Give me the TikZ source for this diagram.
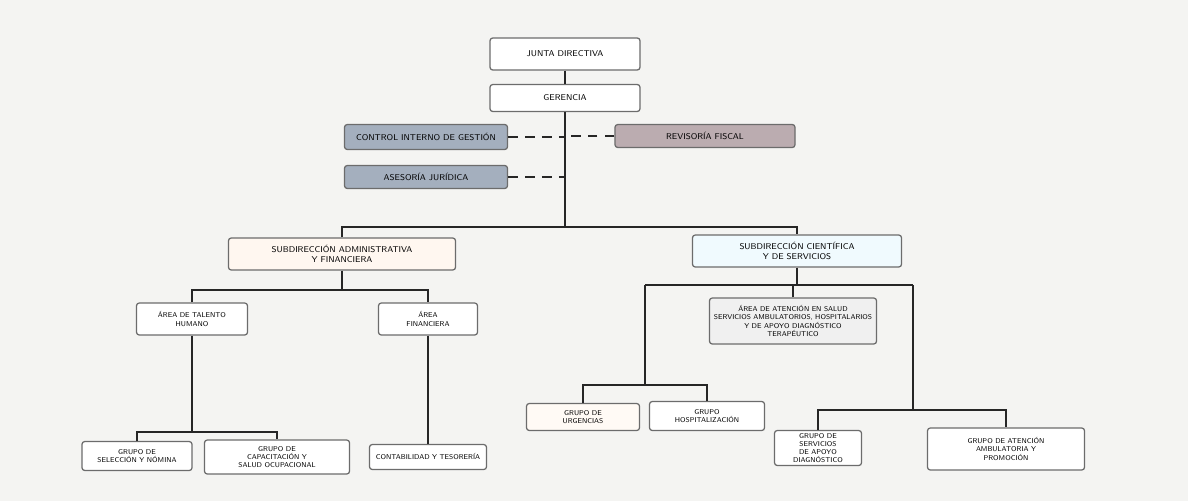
\documentclass[tikz,border=0pt]{standalone}
\usepackage{tikz}
\usetikzlibrary{positioning}
\definecolor{boxline}{HTML}{6C6C6C}
\definecolor{staffblue}{HTML}{A4AFBE}
\definecolor{staffrose}{HTML}{BBACB0}
\definecolor{paper}{HTML}{F4F4F2}
\tikzset{
  unit/.style={draw=boxline, line width=0.9pt, rounded corners=2pt, fill=white,
               align=center, font=\sffamily\fontsize{6}{7}\selectfont, inner sep=1pt},
  smallunit/.style={unit, font=\sffamily\fontsize{5}{5.8}\selectfont},
  staffunit/.style={unit, fill=staffblue},
  roseunit/.style={unit, fill=staffrose},
  link/.style={line width=1.4pt, draw=black!85},
  stafflink/.style={link, dash pattern=on 7pt off 5pt},
}

\begin{document}
\begin{tikzpicture}[x=0.025cm, y=-0.025cm]
    \fill[paper] (0,0) rectangle (1188,501);
    \node[unit, minimum width=3.75cm, minimum height=0.8cm] (jd) at (565,54) {JUNTA DIRECTIVA};
    \node[unit, minimum width=3.75cm, minimum height=0.675cm] (ger) at (565,98) {GERENCIA};
    \node[staffunit, minimum width=4.075cm, minimum height=0.625cm] (ci) at (426,137) {CONTROL INTERNO DE GESTIÓN};
    \node[staffunit, minimum width=4.075cm, minimum height=0.575cm] (ja) at (426,177) {ASESORÍA JURÍDICA};
    \node[roseunit, minimum width=4.5cm, minimum height=0.575cm] (rf) at (705,136) {REVISORÍA FISCAL};
    \node[unit, fill=orange!6, minimum width=5.675cm, minimum height=0.8cm] (sa) at (342,254) {SUBDIRECCIÓN ADMINISTRATIVA\\Y FINANCIERA};
    \node[unit, fill=cyan!6, minimum width=5.225cm, minimum height=0.8cm] (sc) at (797,251) {SUBDIRECCIÓN CIENTÍFICA\\Y DE SERVICIOS};
    \node[smallunit, minimum width=2.775cm, minimum height=0.8cm] (th) at (192,319) {ÁREA DE TALENTO\\HUMANO};
    \node[smallunit, minimum width=2.475cm, minimum height=0.8cm] (af) at (428,319) {ÁREA\\FINANCIERA};
    \node[smallunit, fill=gray!12, minimum width=4.175cm, minimum height=1.15cm] (co) at (793,321) {ÁREA DE ATENCIÓN EN SALUD\\SERVICIOS AMBULATORIOS, HOSPITALARIOS\\Y DE APOYO DIAGNÓSTICO\\TERAPÉUTICO};
    \node[smallunit, minimum width=2.75cm, minimum height=0.725cm] (b1) at (137,456) {GRUPO DE\\SELECCIÓN Y NÓMINA};
    \node[smallunit, minimum width=3.625cm, minimum height=0.85cm] (b2) at (277,457) {GRUPO DE\\CAPACITACIÓN Y\\SALUD OCUPACIONAL};
    \node[smallunit, minimum width=2.925cm, minimum height=0.625cm] (b3) at (428,457) {CONTABILIDAD Y TESORERÍA};
    \node[smallunit, fill=orange!4, minimum width=2.825cm, minimum height=0.675cm] (m1) at (583,417) {GRUPO DE\\URGENCIAS};
    \node[smallunit, minimum width=2.875cm, minimum height=0.725cm] (m2) at (707,416) {GRUPO\\HOSPITALIZACIÓN};
    \node[smallunit, minimum width=2.175cm, minimum height=0.875cm] (r1) at (818,448) {GRUPO DE\\SERVICIOS\\DE APOYO\\DIAGNÓSTICO};
    \node[smallunit, minimum width=3.925cm, minimum height=1.05cm] (r2) at (1006,449) {GRUPO DE ATENCIÓN\\AMBULATORIA Y\\PROMOCIÓN};
    % junctions
    \coordinate (j1) at (565,227);
    \coordinate (j2) at (342,290);
    \coordinate (j3) at (192,432);
    \coordinate (j4) at (797,285);
    \coordinate (k1) at (645,285);
    \coordinate (k2) at (913,285);
    \coordinate (j5) at (645,385);
    \coordinate (j6) at (913,410);
    % lines
    \draw[link] (jd) -- (ger);
    \draw[link] (ger) -- (j1);
    \draw[stafflink] (ci.east) -- (ci.east -| j1);
    \draw[stafflink] (ja.east) -- (ja.east -| j1);
    \draw[stafflink] (rf.west) -- (rf.west -| j1);
    \draw[link] (sa.north) |- (j1) -| (sc.north);
    \draw[link] (sa) -- (j2);
    \draw[link] (th.north) |- (j2) -| (af.north);
    \draw[link] (th) -- (j3);
    \draw[link] (b1.north) |- (j3) -| (b2.north);
    \draw[link] (af) -- (b3);
    \draw[link] (sc) -- (j4);
    \draw[link] (k1) -- (k2);
    \draw[link] (co.north) -- (co.north |- j4);
    \draw[link] (k1) -- (j5);
    \draw[link] (m1.north) |- (j5) -| (m2.north);
    \draw[link] (k2) -- (j6);
    \draw[link] (r1.north) |- (j6) -| (r2.north);
\end{tikzpicture}
\end{document}
